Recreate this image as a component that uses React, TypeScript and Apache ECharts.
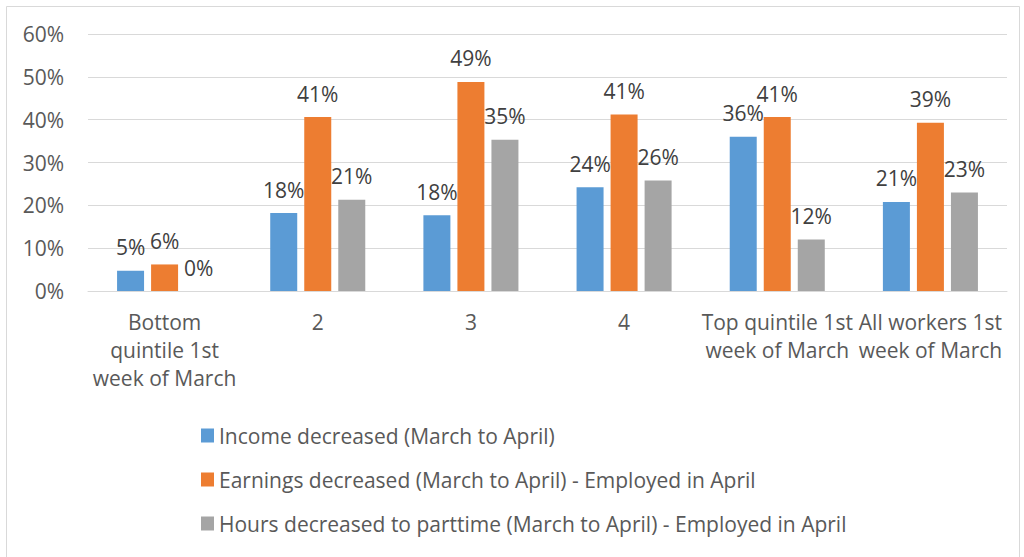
import React, { useEffect, useRef } from "react";
import * as echarts from "echarts";

const categories = [
  "Bottom\nquintile 1st\nweek of March",
  "2",
  "3",
  "4",
  "Top quintile 1st\nweek of March",
  "All workers 1st\nweek of March",
];
const seriesNames = [
  "Income decreased (March to April)",
  "Earnings decreased (March to April) - Employed in April",
  "Hours decreased to parttime (March to April) - Employed in April",
];
const incomeDecreased = [4.7, 18.2, 17.7, 24.2, 36.0, 20.8];
const earningsDecreased = [6.2, 40.6, 48.8, 41.2, 40.6, 39.3];
const hoursDecreased = [0, 21.3, 35.3, 25.8, 12.0, 23.0];
const colors = ["#5B9BD5", "#ED7D31", "#A5A5A5"];
const yTicks = [0, 10, 20, 30, 40, 50, 60];

const FONT = "'Open Sans', sans-serif";
const TEXT = "#595959";

export default function App() {
  const ref = useRef<HTMLDivElement>(null);
  useEffect(() => {
    if (!ref.current) return;
    const chart = echarts.init(ref.current, undefined, { renderer: "svg" });
    const data = [incomeDecreased, earningsDecreased, hoursDecreased];
    chart.setOption({
      animation: false,
      textStyle: { fontFamily: FONT },
      graphic: [
        {
          type: "rect",
          shape: { x: 6.5, y: 6.5, width: 1013, height: 560 },
          style: { fill: "none", stroke: "#D9D9D9", lineWidth: 1 },
          silent: true,
        },
      ],
      grid: { left: 88, right: 17, top: 34, height: 257, containLabel: false },
      xAxis: {
        type: "category",
        data: categories,
        axisLine: { lineStyle: { color: "#D9D9D9", width: 1 } },
        axisTick: { show: false },
        axisLabel: {
          color: TEXT,
          fontSize: 21,
          fontFamily: FONT,
          lineHeight: 28,
          margin: 17,
          interval: 0,
        },
      },
      yAxis: {
        type: "value",
        min: yTicks[0],
        max: yTicks[yTicks.length - 1],
        interval: 10,
        axisLine: { show: false },
        axisTick: { show: false },
        splitLine: { lineStyle: { color: "#D9D9D9", width: 1 } },
        axisLabel: {
          color: TEXT,
          fontSize: 21,
          fontFamily: FONT,
          margin: 24,
          formatter: (v: number) => `${v}%`,
        },
      },
      legend: {
        orient: "vertical",
        left: 201,
        top: 425,
        padding: 0,
        itemWidth: 13,
        itemHeight: 14,
        itemGap: 23,
        icon: "rect",
        textStyle: { color: TEXT, fontSize: 21, fontFamily: FONT, lineHeight: 14, padding: 0 },
        data: seriesNames,
      },
      series: seriesNames.map((name, i) => ({
        name,
        type: "bar",
        data: data[i],
        barWidth: 27,
        barGap: "26%",
        itemStyle: { color: colors[i] },
        label: {
          show: true,
          position: "top",
          distance: 13,
          color: "#404040",
          fontSize: 21,
          fontFamily: FONT,
          formatter: (p: any) => `${Math.round(p.value)}%`,
        },
      })),
    });
    return () => chart.dispose();
  }, []);
  return (
    <div
      ref={ref}
      style={{ position: "fixed", left: 0, top: 0, width: 1024, height: 557, background: "#fff" }}
    />
  );
}
